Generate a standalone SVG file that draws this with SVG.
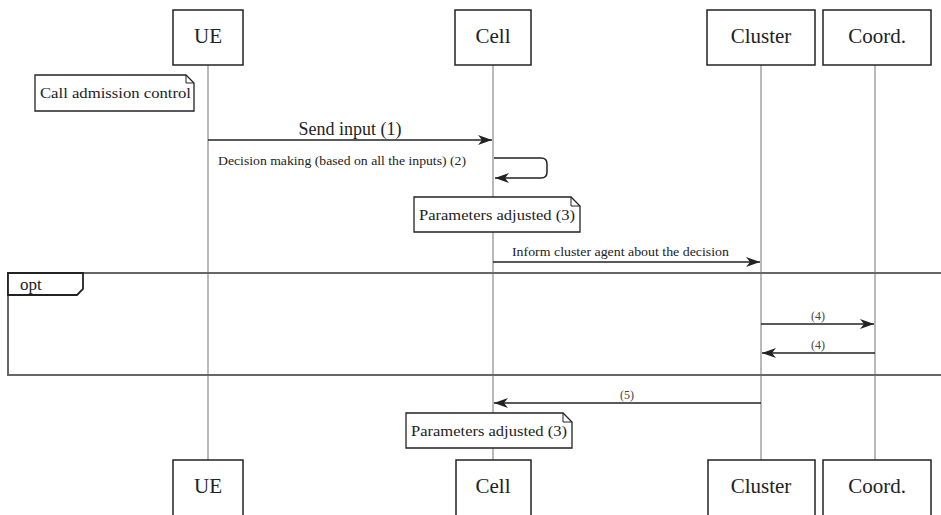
<svg xmlns="http://www.w3.org/2000/svg" width="941" height="515" viewBox="0 0 941 515" font-family="'Liberation Serif', 'DejaVu Serif', serif">
  <defs>
    <style>
      text { font-family: 'Liberation Serif', 'DejaVu Serif', serif; }
      .actor { fill: #fff; stroke: #222; stroke-width: 1.5; }
      .actor-label { font-size: 21px; fill: #222; text-anchor: middle; }
      .life { stroke: #8a8a8a; stroke-width: 1.2; fill: none; }
      .note { fill: #fff; stroke: #222; stroke-width: 1.3; }
      .note-fold { fill: none; stroke: #222; stroke-width: 1; }
      .note-text { font-size: 15px; fill: #222; }
      .msg { stroke: #222; stroke-width: 1.5; fill: none; }
      .msg-label { fill: #222; }
      .small { font-size: 12px; }
      .tiny { font-size: 12px; fill: #444; text-anchor: middle; }
      .frame { fill: none; stroke: #666; stroke-width: 2; }
      .frame-tab { fill: #fff; stroke: #222; stroke-width: 1.8; }
    </style>
    <marker id="arrow" viewBox="0 0 14 10" refX="14" refY="5" markerWidth="14" markerHeight="10" markerUnits="userSpaceOnUse" orient="auto">
      <path d="M0,0 L14,5 L0,10 L4,5 z" fill="#222"/>
    </marker>
  </defs>

  <!-- lifelines -->
  <g id="lifelines">
    <line class="life" x1="208" y1="65" x2="208" y2="460"/>
    <line class="life" x1="493" y1="65" x2="493" y2="460"/>
    <line class="life" x1="761" y1="65" x2="761" y2="460"/>
    <line class="life" x1="875" y1="65" x2="875" y2="460"/>
  </g>

  <!-- opt combined fragment -->
  <g id="opt-frame">
    <path class="frame" d="M945,273 L8,273 L8,375 L945,375"/>
    <path class="frame-tab" d="M8,273 L83,273 L83,289 L77,295 L8,295 Z"/>
    <text class="msg-label" x="20" y="290" font-size="17">opt</text>
  </g>

  <!-- participants (top) -->
  <g id="ue-top">
    <rect class="actor" x="173" y="10" width="70" height="55"/>
    <text class="actor-label" x="208" y="43">UE</text>
  </g>
  <g id="cell-top">
    <rect class="actor" x="455" y="10" width="76" height="55"/>
    <text class="actor-label" x="493" y="43">Cell</text>
  </g>
  <g id="cluster-top">
    <rect class="actor" x="707" y="10" width="108" height="55"/>
    <text class="actor-label" x="761" y="43">Cluster</text>
  </g>
  <g id="coord-top">
    <rect class="actor" x="823" y="10" width="108" height="55"/>
    <text class="actor-label" x="877" y="43">Coord.</text>
  </g>

  <!-- participants (bottom) -->
  <g id="ue-bottom">
    <rect class="actor" x="173" y="460" width="70" height="60"/>
    <text class="actor-label" x="208" y="493">UE</text>
  </g>
  <g id="cell-bottom">
    <rect class="actor" x="456" y="460" width="75" height="60"/>
    <text class="actor-label" x="493" y="493">Cell</text>
  </g>
  <g id="cluster-bottom">
    <rect class="actor" x="708" y="460" width="107" height="60"/>
    <text class="actor-label" x="761" y="493">Cluster</text>
  </g>
  <g id="coord-bottom">
    <rect class="actor" x="823" y="460" width="108" height="60"/>
    <text class="actor-label" x="877" y="493">Coord.</text>
  </g>

  <!-- notes -->
  <g id="note-cac">
    <path class="note" d="M35,75 L186,75 L194,83 L194,111 L35,111 Z"/>
    <path class="note-fold" d="M186,75 L186,83 L194,83"/>
    <text class="note-text" x="40" y="98" textLength="151" lengthAdjust="spacingAndGlyphs">Call admission control</text>
  </g>
  <g id="note-params-1">
    <path class="note" d="M414,197 L571,197 L580,206 L580,232 L414,232 Z"/>
    <path class="note-fold" d="M571,197 L571,206 L580,206"/>
    <text class="note-text" x="419" y="220" textLength="156" lengthAdjust="spacingAndGlyphs">Parameters adjusted (3)</text>
  </g>
  <g id="note-params-2">
    <path class="note" d="M406,413 L563,413 L572,422 L572,448 L406,448 Z"/>
    <path class="note-fold" d="M563,413 L563,422 L572,422"/>
    <text class="note-text" x="411" y="436" textLength="156" lengthAdjust="spacingAndGlyphs">Parameters adjusted (3)</text>
  </g>

  <!-- messages -->
  <g id="connectors">
    <line class="msg" x1="208" y1="140" x2="492" y2="140" marker-end="url(#arrow)"/>
    <text class="msg-label" x="350" y="135" font-size="18" text-anchor="middle">Send input (1)</text>

    <path class="msg" d="M494,158 L541,158 Q547,158 547,164 L547,172 Q547,178 541,178 L495,178" marker-end="url(#arrow)"/>
    <text class="msg-label small" x="218" y="165" textLength="248" lengthAdjust="spacingAndGlyphs">Decision making (based on all the inputs) (2)</text>

    <line class="msg" x1="493" y1="262" x2="760" y2="262" marker-end="url(#arrow)"/>
    <text class="msg-label small" x="512" y="256" textLength="217" lengthAdjust="spacingAndGlyphs">Inform cluster agent about the decision</text>

    <line class="msg" x1="761" y1="324" x2="874" y2="324" marker-end="url(#arrow)"/>
    <text class="msg-label tiny" x="818" y="320">(4)</text>

    <line class="msg" x1="875" y1="353" x2="762" y2="353" marker-end="url(#arrow)"/>
    <text class="msg-label tiny" x="818" y="349">(4)</text>

    <line class="msg" x1="761" y1="403" x2="494" y2="403" marker-end="url(#arrow)"/>
    <text class="msg-label tiny" x="627" y="399">(5)</text>
  </g>
</svg>
